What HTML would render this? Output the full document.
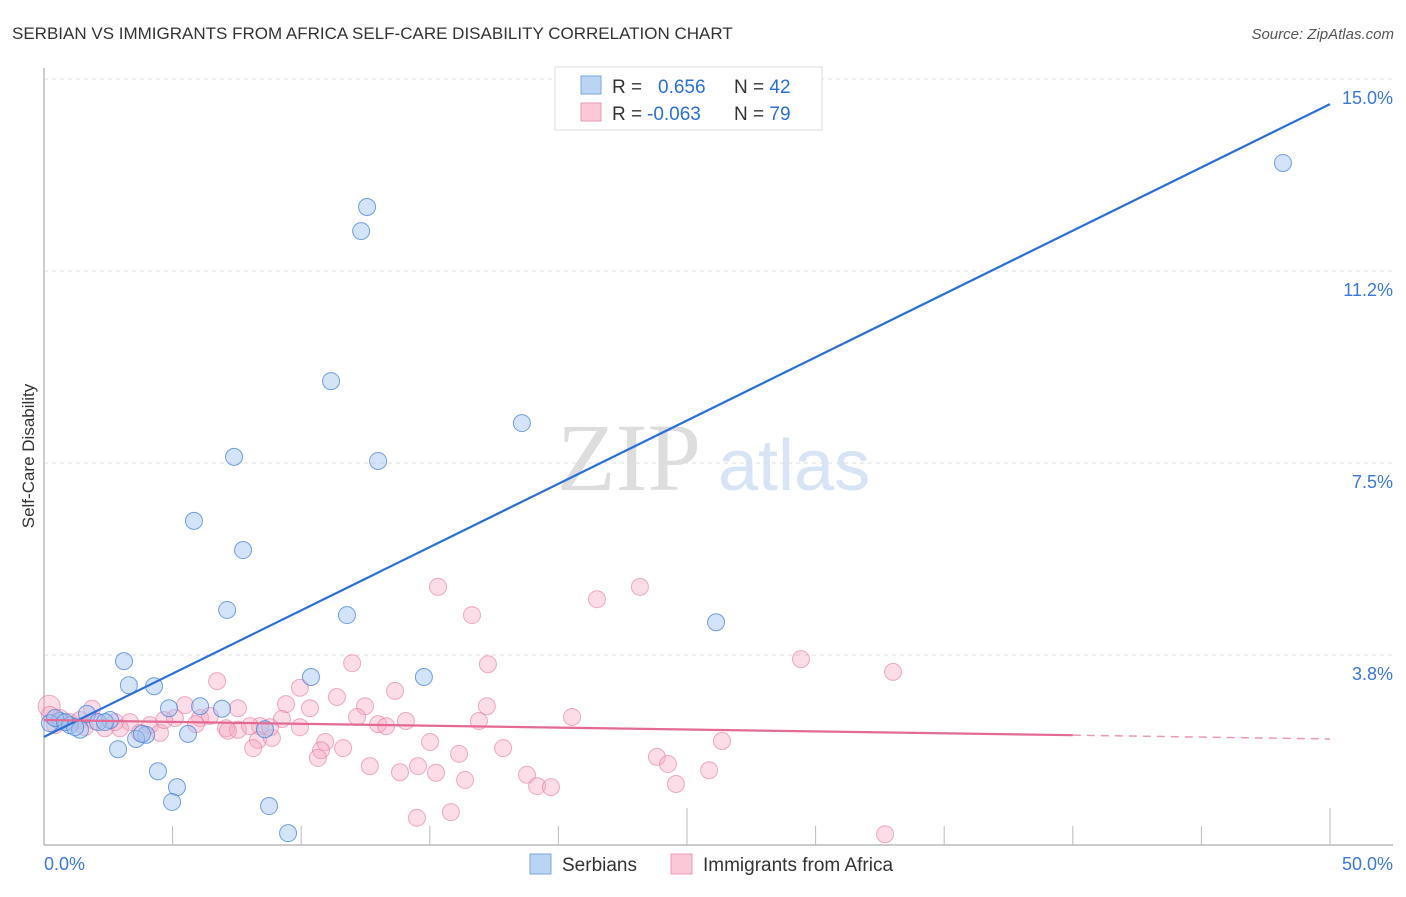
<!DOCTYPE html>
<html><head><meta charset="utf-8"><style>
body{margin:0;background:#fff;font-family:"Liberation Sans",sans-serif}
svg text{font-family:"Liberation Sans",sans-serif}
</style></head><body>
<svg id="c" width="1406" height="892">
<text x="12" y="39" font-size="17" fill="#333">SERBIAN VS IMMIGRANTS FROM AFRICA SELF-CARE DISABILITY CORRELATION CHART</text>
<text x="1394" y="39" font-size="15" fill="#555" text-anchor="end" font-style="italic">Source: ZipAtlas.com</text>
<text x="0" y="0" transform="translate(34,456) rotate(-90)" font-size="17" fill="#333" text-anchor="middle">Self-Care Disability</text>
<g><text x="557" y="490" font-size="96" fill="#ddd" font-family="Liberation Serif" style="font-family:'Liberation Serif',serif">ZIP</text><text x="718" y="490" font-size="72" fill="#d6e4f5">atlas</text></g>
<g id="grid"></g><g id="axes"></g><g id="pts"></g><g id="lines"></g>
<g>
<rect x="555" y="67" width="267" height="63" fill="#fff" stroke="#ddd"/>
<rect x="581" y="76" width="20" height="18" fill="#bcd4f4" stroke="#7aa7e0"/>
<rect x="581" y="103" width="20" height="18" fill="#fbc8d7" stroke="#ec98b3"/>
<text x="612" y="93" font-size="19" fill="#333">R = <tspan fill="#2a6fd6" x="658">0.656</tspan><tspan x="734" fill="#333">N = </tspan><tspan fill="#2a6fd6">42</tspan></text>
<text x="612" y="120" font-size="19" fill="#333">R = <tspan fill="#2a6fd6" x="647">-0.063</tspan><tspan x="734" fill="#333">N = </tspan><tspan fill="#2a6fd6">79</tspan></text>
</g>
<g>
<rect x="530" y="854" width="21" height="20" fill="#bcd4f4" stroke="#7aa7e0"/>
<text x="562" y="871" font-size="19" fill="#333">Serbians</text>
<rect x="671" y="854" width="21" height="20" fill="#fbc8d7" stroke="#ec98b3"/>
<text x="703" y="871" font-size="19" fill="#333">Immigrants from Africa</text>
</g>
</svg>
<script>
const yTicks=[3.75,7.5,11.25,15];
const yTickLabels=["3.8%","7.5%","11.2%","15.0%"];
const xTicks=[5,10,15,20,25,30,35,40,45,50];
const blueX=[48.17,12.56,12.33,11.16,18.58,7.39,12.99,5.83,7.74,7.12,11.78,26.13,3.11,3.30,4.28,10.38,14.77,6.07,4.86,6.92,1.67,2.57,0.62,0.23,1.01,1.40,2.10,3.97,3.58,5.60,8.59,2.88,4.43,5.17,4.98,8.75,9.49,0.43,0.82,2.37,3.81,1.21];
const blueY=[13.36,12.5,12.03,9.10,8.28,7.62,7.54,6.37,5.80,4.63,4.53,4.39,3.63,3.16,3.14,3.32,3.32,2.75,2.71,2.70,2.60,2.48,2.46,2.42,2.38,2.29,2.44,2.19,2.11,2.21,2.30,1.91,1.48,1.17,0.88,0.80,0.27,2.52,2.44,2.44,2.21,2.34];
const pinkX=[0.2,15.32,23.17,21.50,16.64,29.43,11.98,17.26,33.01,6.73,9.95,11.39,13.65,9.41,7.54,12.48,17.22,5.48,20.53,12.17,16.91,14.07,12.99,13.30,10.34,8.40,9.25,1.87,0.62,1.01,3.34,4.12,5.09,6.07,7.08,7.54,8.32,8.86,7.15,4.51,5.91,2.95,2.37,26.36,15.01,10.93,10.77,11.63,16.14,17.85,10.65,23.83,24.26,8.13,12.67,14.54,13.84,15.24,25.86,18.78,16.37,19.17,19.71,24.57,14.50,15.82,32.70,3.73,2.76,0.23,1.40,4.67,6.45,8.01,9.95,8.79,1.59,0.43,1.98];
const pinkY=[2.75,5.08,5.08,4.84,4.53,3.67,3.59,3.57,3.42,3.24,3.11,2.93,3.05,2.79,2.71,2.75,2.75,2.77,2.54,2.54,2.46,2.46,2.40,2.36,2.71,2.36,2.50,2.70,2.52,2.44,2.44,2.38,2.52,2.52,2.32,2.29,2.09,2.13,2.27,2.23,2.40,2.32,2.32,2.07,2.05,2.05,1.89,1.93,1.82,1.93,1.74,1.76,1.62,1.93,1.58,1.58,1.46,1.45,1.50,1.41,1.31,1.19,1.17,1.23,0.57,0.68,0.25,2.23,2.44,2.58,2.48,2.48,2.56,2.36,2.34,2.34,2.34,2.38,2.46];
const blueTrend=[2.15,14.51]; // y at x=0 and x=50
const pinkTrend=[2.48,2.11];  // y at x=0 and x=50
const pinkSolidEnd=40;
const NS="http://www.w3.org/2000/svg";
const X=v=>44+v*25.72, Y=v=>847-v*51.2;
function mk(t,a,p){const e=document.createElementNS(NS,t);for(const k in a)e.setAttribute(k,a[k]);document.getElementById(p).appendChild(e);return e;}
yTicks.forEach((t,i)=>{
 const g=mk('line',{x1:44,x2:1393,y1:Y(t),y2:Y(t),stroke:'#ddd','stroke-dasharray':'4,4'},'grid');
 
 
 const l=mk('text',{x:1393,y:Y(t)+25,'font-size':18,fill:'#3a78d8','text-anchor':'end'},'grid');
 l.textContent=yTickLabels[i];
 
 
});
const ax=mk('line',{x1:44,x2:44,y1:68,y2:845,stroke:'#bbb','stroke-width':1.5},'axes');


const bx=mk('line',{x1:44,x2:1393,y1:845,y2:845,stroke:'#bbb','stroke-width':1.5},'axes');


xTicks.forEach(t=>{
 const tk=mk('line',{x1:X(t),x2:X(t),y1:(t%25===0)?808:826,y2:845,stroke:'#bbb'},'axes');
 
 
});
const x0=mk('text',{x:44,y:870,'font-size':18,fill:'#3a78d8'},'axes');x0.textContent='0.0%';


const x1=mk('text',{x:1393,y:870,'font-size':18,fill:'#3a78d8','text-anchor':'end'},'axes');x1.textContent='50.0%';


pinkX.forEach((v,i)=>{
 const c=mk('circle',{cx:X(v),cy:Y(pinkY[i]),r:i===0?11:8.5,fill:'rgba(246,168,194,0.4)',stroke:'rgba(232,120,158,0.6)'},'pts');
 
 
});
blueX.forEach((v,i)=>{
 const c=mk('circle',{cx:X(v),cy:Y(blueY[i]),r:8.5,fill:'rgba(160,196,240,0.45)',stroke:'rgba(70,130,215,0.75)'},'pts');
 
 
});
const bl=mk('line',{x1:X(0),y1:Y(blueTrend[0]),x2:X(50),y2:Y(blueTrend[1]),stroke:'#2a6fd6','stroke-width':2.2},'lines');


const pm=pinkTrend[0]+(pinkTrend[1]-pinkTrend[0])*pinkSolidEnd/50;
const pl=mk('line',{x1:X(0),y1:Y(pinkTrend[0]),x2:X(pinkSolidEnd),y2:Y(pm),stroke:'#e46a94','stroke-width':2.2},'lines');


const pd=mk('line',{x1:X(pinkSolidEnd),y1:Y(pm),x2:X(50),y2:Y(pinkTrend[1]),stroke:'#e99ab5','stroke-width':1.5,'stroke-dasharray':'8,6'},'lines');


</script>
</body></html>
